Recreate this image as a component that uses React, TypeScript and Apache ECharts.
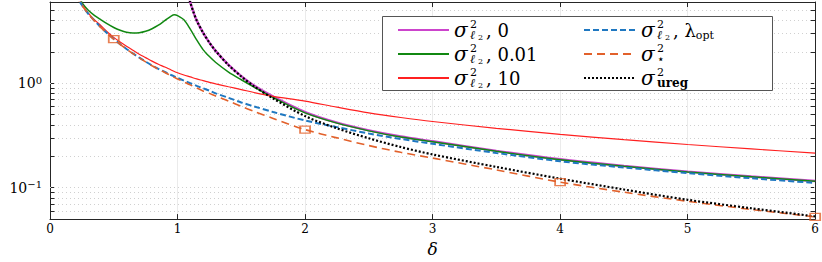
import React, { useEffect, useRef } from 'react';
import * as echarts from 'echarts';

// ---------- data ----------
const NAME_L0 = 'σ²ℓ₂,0';
const NAME_L001 = 'σ²ℓ₂,0.01';
const NAME_L10 = 'σ²ℓ₂,10';
const NAME_OPT = 'σ²ℓ₂,λopt';
const NAME_STAR = 'σ²⋆';
const NAME_UREG = 'σ²ureg';

const deltaGrid = [0.2, 0.25, 0.3, 0.35, 0.4, 0.45, 0.5, 0.55, 0.6, 0.65, 0.7, 0.75, 0.8, 0.85, 0.9, 0.95, 1.0, 1.05, 1.1, 1.15, 1.2, 1.25, 1.3, 1.4, 1.5, 1.6, 1.75, 2.0, 2.25, 2.5, 2.75, 3.0, 3.5, 4.0, 4.5, 5.0, 5.5, 6.0];

const deltaL0 = [1.08, 1.1, 1.125, 1.15, 1.2, 1.25, 1.3, 1.4, 1.5, 1.6, 1.75, 2.0, 2.25, 2.5, 2.75, 3.0, 3.5, 4.0, 4.5, 5.0, 5.5, 6.0];
const sigmaL0 = [7.4, 5.95, 4.8, 4.0, 3.05, 2.45, 2.03, 1.5, 1.17, 0.95, 0.745, 0.53, 0.42, 0.354, 0.309, 0.278, 0.225, 0.187, 0.1615, 0.1425, 0.128, 0.116];

const deltaL001 = [0.2, 0.25, 0.3, 0.35, 0.4, 0.45, 0.5, 0.55, 0.6, 0.65, 0.7, 0.75, 0.8, 0.85, 0.9, 0.95, 0.975, 1.0, 1.05, 1.1, 1.15, 1.2, 1.25, 1.3, 1.4, 1.5, 1.6, 1.75, 2.0, 2.25, 2.5, 2.75, 3.0, 3.5, 4.0, 4.5, 5.0, 5.5, 6.0];
const sigmaL001 = [8.5, 5.95, 5.0, 4.45, 4.05, 3.7, 3.42, 3.22, 3.08, 3.03, 3.05, 3.15, 3.33, 3.6, 3.98, 4.4, 4.53, 4.45, 4.05, 3.3, 2.6, 2.1, 1.8, 1.58, 1.28, 1.08, 0.92, 0.73, 0.52, 0.415, 0.35, 0.305, 0.275, 0.223, 0.185, 0.16, 0.141, 0.127, 0.115];

const sigmaL10 = [7.6, 5.75, 4.7, 4.05, 3.55, 3.1, 2.75, 2.48, 2.26, 2.07, 1.9, 1.76, 1.63, 1.52, 1.43, 1.34, 1.26, 1.2, 1.15, 1.1, 1.06, 1.02, 0.985, 0.925, 0.87, 0.815, 0.75, 0.675, 0.59, 0.52, 0.47, 0.43, 0.37, 0.324, 0.288, 0.259, 0.235, 0.214];

const sigmaOpt = [7.1, 5.62, 4.63, 3.96, 3.42, 3.0, 2.65, 2.37, 2.13, 1.93, 1.76, 1.61, 1.48, 1.375, 1.285, 1.2, 1.125, 1.06, 1.0, 0.945, 0.895, 0.85, 0.8, 0.725, 0.655, 0.6, 0.53, 0.44, 0.38, 0.33, 0.293, 0.263, 0.215, 0.179, 0.156, 0.138, 0.123, 0.111];

const sigmaStar = [7.1, 5.61, 4.62, 3.95, 3.41, 2.99, 2.64, 2.36, 2.12, 1.92, 1.75, 1.6, 1.47, 1.36, 1.27, 1.18, 1.1, 1.03, 0.965, 0.9, 0.845, 0.8, 0.755, 0.675, 0.6, 0.537, 0.46, 0.36, 0.3, 0.253, 0.218, 0.192, 0.148, 0.113, 0.0905, 0.074, 0.0618, 0.0525];

const sigmaUreg = [7.4, 5.95, 4.8, 4.0, 3.05, 2.45, 2.03, 1.49, 1.16, 0.935, 0.715, 0.485, 0.37, 0.297, 0.245, 0.208, 0.158, 0.122, 0.096, 0.0765, 0.0635, 0.053];

const markerDeltas = [0.5, 2, 4, 6];

const xTicks = { min: 0, max: 6, interval: 1 };
const yRange = { min: 0.05, max: 6 };
const gridYValues = [0.06, 0.07, 0.08, 0.09, 0.1, 0.2, 0.3, 0.4, 0.5, 0.6, 0.7, 0.8, 0.9, 1, 2, 3, 4, 5];
const minorTickValues = [0.06, 0.07, 0.08, 0.09, 0.2, 0.3, 0.4, 0.5, 0.6, 0.7, 0.8, 0.9, 2, 3, 4, 5];

// ---------- styles ----------
const SERIF = 'DejaVu Serif';
const C_MAG = '#cc44cc';
const C_GREEN = '#118811';
const C_RED = '#ff2020';
const C_BLUE = '#1f78c1';
const C_ORANGE = '#e2612b';
const C_BLACK = '#000000';
const AXIS = '#262626';

const zip = (xs: number[], ys: number[]) => xs.map((x, i) => [x, ys[i]]);

const LEGEND_TEXT: Record<string, string> = {
  [NAME_L0]: '{s|σ}{p|2}{b|ℓ}{bb|2}{t|, 0}',
  [NAME_L001]: '{s|σ}{p|2}{b|ℓ}{bb|2}{t|, 0.01}',
  [NAME_L10]: '{s|σ}{p|2}{b|ℓ}{bb|2}{t|, 10}',
  [NAME_OPT]: '{s|σ}{p|2}{b|ℓ}{bb|2}{t|, λ}{o|opt}',
  [NAME_STAR]: '{s|σ}{p|2}{st|⋆}',
  [NAME_UREG]: '{s|σ}{p|2}{u|ureg}',
};

const legendRich = {
  s: { fontFamily: SERIF, fontStyle: 'italic', fontSize: 20, lineHeight: 22, width: 16, color: '#000' },
  p: { fontFamily: SERIF, fontSize: 11, lineHeight: 10, verticalAlign: 'top', width: 0, color: '#000' },
  b: { fontFamily: SERIF, fontStyle: 'italic', fontSize: 12, lineHeight: 11, verticalAlign: 'bottom', width: 8, color: '#000' },
  bb: { fontFamily: SERIF, fontSize: 8, lineHeight: 7, verticalAlign: 'bottom', width: 8, color: '#000' },
  t: { fontFamily: SERIF, fontSize: 18, lineHeight: 22, color: '#000' },
  o: { fontFamily: SERIF, fontSize: 11, lineHeight: 10, verticalAlign: 'bottom', color: '#000' },
  st: { fontFamily: 'DejaVu Sans', fontSize: 12, lineHeight: 10, verticalAlign: 'bottom', color: '#000' },
  u: { fontFamily: SERIF, fontSize: 12, lineHeight: 11, verticalAlign: 'bottom', fontWeight: 'bold', color: '#000' },
};

function yLabel(v: number) {
  const l = Math.log10(v);
  const e = Math.round(l);
  if (Math.abs(l - e) > 1e-6) return '';
  return `{b|10}{e|${e < 0 ? '−' + -e : e}}`;
}

function buildOption() {
  const lineBase = {
    type: 'line',
    showSymbol: false,
    symbol: 'none',
    smooth: 0.3,
    clip: true,
    silent: true,
  };
  const markerData = markerDeltas.map((d) => [d, sigmaStar[deltaGrid.indexOf(d)]]);
  const legendCommon = {
    orient: 'vertical',
    top: 19,
    itemHeight: 12,
    itemGap: 2,
    padding: 0,
    selectedMode: false,
    itemStyle: { opacity: 0 },
    formatter: (n: string) => LEGEND_TEXT[n],
    textStyle: { fontFamily: SERIF, rich: legendRich },
  };
  return {
    animation: false,
    backgroundColor: '#ffffff',
    textStyle: { fontFamily: SERIF },
    grid: { left: 50, right: 6, top: 2, bottom: 30, containLabel: false },
    xAxis: [
      {
        type: 'value',
        ...xTicks,
        position: 'bottom',
        name: 'δ',
        nameLocation: 'middle',
        nameGap: 16,
        nameTextStyle: { fontFamily: SERIF, fontStyle: 'italic', fontSize: 17, color: '#000' },
        axisLine: { show: true, onZero: false, lineStyle: { color: AXIS, width: 1 } },
        axisTick: { show: true, inside: true, length: 5, lineStyle: { color: AXIS } },
        axisLabel: { fontFamily: SERIF, fontSize: 12, margin: 4, color: '#000' },
        splitLine: { show: true, lineStyle: { color: '#ebebeb', width: 1 } },
      },
      {
        type: 'value',
        ...xTicks,
        position: 'top',
        axisLine: { show: true, onZero: false, lineStyle: { color: AXIS, width: 1 } },
        axisTick: { show: true, inside: true, length: 5, lineStyle: { color: AXIS } },
        axisLabel: { show: false },
        splitLine: { show: false },
      },
    ],
    yAxis: [
      {
        type: 'log',
        logBase: 10,
        ...yRange,
        position: 'left',
        axisLine: { show: true, onZero: false, lineStyle: { color: AXIS, width: 1 } },
        axisTick: { show: true, inside: true, length: 5, lineStyle: { color: AXIS } },
        axisLabel: {
          formatter: yLabel,
          margin: 8,
          rich: {
            b: { fontFamily: SERIF, fontSize: 14, lineHeight: 16, color: '#000' },
            e: { fontFamily: SERIF, fontSize: 10, lineHeight: 9, verticalAlign: 'top', color: '#000' },
          },
        },
        splitLine: { show: false },
      },
      {
        type: 'log',
        logBase: 10,
        ...yRange,
        position: 'right',
        axisLine: { show: true, onZero: false, lineStyle: { color: AXIS, width: 1 } },
        axisTick: { show: true, inside: true, length: 5, lineStyle: { color: AXIS } },
        axisLabel: { show: false },
        splitLine: { show: false },
      },
    ],
    legend: [
      { ...legendCommon, left: 397, itemWidth: 51, data: [NAME_L0, NAME_L001, NAME_L10] },
      { ...legendCommon, left: 583, itemWidth: 52, data: [NAME_OPT, NAME_STAR, NAME_UREG] },
    ],
    graphic: [
      {
        type: 'rect',
        z: 3,
        silent: true,
        shape: { x: 382.5, y: 16.5, width: 390, height: 74 },
        style: { fill: '#ffffff', stroke: '#555555', lineWidth: 1 },
      },
    ],
    series: [
      {
        ...lineBase,
        name: NAME_L0,
        data: zip(deltaL0, sigmaL0),
        lineStyle: { color: C_MAG, width: 2.4 },
        itemStyle: { color: C_MAG },
        markLine: {
          silent: true,
          z: 1,
          symbol: ['none', 'none'],
          label: { show: false },
          lineStyle: { color: '#d0d0d0', type: [1, 3], width: 1 },
          data: gridYValues.map((v) => ({ yAxis: v })),
        },
      },
      {
        ...lineBase,
        name: NAME_L001,
        data: zip(deltaL001, sigmaL001),
        lineStyle: { color: C_GREEN, width: 1.5 },
        itemStyle: { color: C_GREEN },
      },
      {
        ...lineBase,
        name: NAME_L10,
        data: zip(deltaGrid, sigmaL10),
        lineStyle: { color: C_RED, width: 1.2 },
        itemStyle: { color: C_RED },
      },
      {
        ...lineBase,
        name: NAME_OPT,
        data: zip(deltaGrid, sigmaOpt),
        lineStyle: { color: C_BLUE, width: 2, type: [6, 3] },
        itemStyle: { color: C_BLUE },
      },
      {
        ...lineBase,
        name: NAME_STAR,
        data: zip(deltaGrid, sigmaStar),
        lineStyle: { color: C_ORANGE, width: 1.6, type: [8, 5] },
        itemStyle: { color: C_ORANGE },
      },
      {
        ...lineBase,
        name: NAME_UREG,
        data: zip(deltaL0, sigmaUreg),
        lineStyle: { color: C_BLACK, width: 2.2, type: [2, 2] },
        itemStyle: { color: C_BLACK },
        markLine: {
          silent: true,
          z: 6,
          symbol: ['none', 'none'],
          label: { show: false },
          lineStyle: { color: AXIS, type: 'solid', width: 1 },
          data: minorTickValues.flatMap((v) => [
            [{ coord: [xTicks.min, v] }, { coord: [xTicks.min + 0.035, v] }],
            [{ coord: [xTicks.max - 0.035, v] }, { coord: [xTicks.max, v] }],
          ]),
        },
      },
      {
        type: 'scatter',
        name: 'σ⋆ markers',
        data: markerData,
        symbol: 'rect',
        symbolSize: [10, 7],
        clip: false,
        silent: true,
        z: 5,
        itemStyle: { color: 'rgba(255,255,255,0)', borderColor: C_ORANGE, borderWidth: 1.5 },
      },
    ],
  };
}

export default function App() {
  const ref = useRef<HTMLDivElement>(null);
  useEffect(() => {
    if (!ref.current) return;
    const chart = echarts.init(ref.current, null, { renderer: 'svg' });
    chart.setOption(buildOption() as any);
    return () => chart.dispose();
  }, []);
  return (
    <div
      ref={ref}
      style={{ position: 'absolute', left: 0, top: 0, width: 822, height: 262, background: '#fff' }}
    />
  );
}
